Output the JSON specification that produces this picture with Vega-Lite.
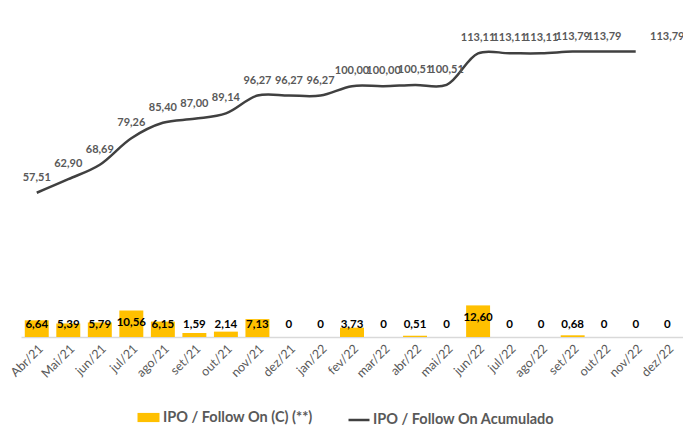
{
  "$schema": "https://vega.github.io/schema/vega-lite/v6.json",
  "width": 662,
  "height": 301,
  "autosize": "none",
  "padding": {"left": 21, "top": 36, "right": 0, "bottom": 91},
  "background": "white",
  "config": {"view": {"stroke": null}, "font": "Lato"},
  "data": {
    "values": [
      {"month": "Abr/21", "bar": 6.64, "acc": 57.51},
      {"month": "Mai/21", "bar": 5.39, "acc": 62.90},
      {"month": "jun/21", "bar": 5.79, "acc": 68.69},
      {"month": "jul/21", "bar": 10.56, "acc": 79.26},
      {"month": "ago/21", "bar": 6.15, "acc": 85.40},
      {"month": "set/21", "bar": 1.59, "acc": 87.00},
      {"month": "out/21", "bar": 2.14, "acc": 89.14},
      {"month": "nov/21", "bar": 7.13, "acc": 96.27},
      {"month": "dez/21", "bar": 0, "acc": 96.27},
      {"month": "jan/22", "bar": 0, "acc": 96.27},
      {"month": "fev/22", "bar": 3.73, "acc": 100.00},
      {"month": "mar/22", "bar": 0, "acc": 100.00},
      {"month": "abr/22", "bar": 0.51, "acc": 100.51},
      {"month": "mai/22", "bar": 0, "acc": 100.51},
      {"month": "jun/22", "bar": 12.60, "acc": 113.11},
      {"month": "jul/22", "bar": 0, "acc": 113.11},
      {"month": "ago/22", "bar": 0, "acc": 113.11},
      {"month": "set/22", "bar": 0.68, "acc": 113.79},
      {"month": "out/22", "bar": 0, "acc": 113.79},
      {"month": "nov/22", "bar": 0, "acc": 113.79},
      {"month": "dez/22", "bar": 0, "acc": 113.79}
    ]
  },
  "encoding": {
    "x": {
      "field": "month",
      "type": "nominal",
      "sort": null,
      "scale": {"paddingInner": 0.24, "paddingOuter": 0.12},
      "axis": {
        "title": null,
        "labelAngle": -45,
        "labelFontSize": 12.5,
        "labelColor": "#595959",
        "labelFont": "Lato",
        "ticks": false,
        "domainColor": "#D9D9D9",
        "domainWidth": 1.5,
        "labelPadding": 5
      }
    }
  },
  "layer": [
    {
      "mark": {"type": "bar"},
      "encoding": {
        "y": {"field": "bar", "type": "quantitative", "scale": {"domain": [0, 120], "nice": false}, "axis": null},
        "fill": {
          "datum": "IPO / Follow On (C) (**)",
          "scale": {"range": ["#FFC000"]},
          "legend": {
            "orient": "none",
            "legendX": 118,
            "legendY": 372,
            "title": null,
            "labelFontSize": 14.5,
            "labelFont": "Lato",
            "labelFontWeight": "bold",
            "labelColor": "#595959",
            "labelLimit": 400,
            "symbolType": "M-1.2,-0.5H1.2V0.5H-1.2Z",
            "symbolSize": 336,
            "symbolStrokeWidth": 0,
            "labelOffset": 5
          }
        }
      }
    },
    {
      "transform": [
        {"calculate": "datum.bar == 0 ? '0' : replace(format(datum.bar, '.2f'), '.', ',')", "as": "blabel"},
        {"calculate": "max(datum.bar - 5, 4.8)", "as": "bpos"}
      ],
      "mark": {"type": "text", "fontWeight": "bold", "fontSize": 11.5, "font": "Lato", "color": "#000000", "baseline": "middle"},
      "encoding": {
        "y": {"field": "bpos", "type": "quantitative"},
        "text": {"field": "blabel"}
      }
    },
    {
      "transform": [{"filter": "datum.month != 'dez/22'"}],
      "mark": {"type": "line", "interpolate": "catmull-rom", "strokeWidth": 2.5},
      "encoding": {
        "y": {"field": "acc", "type": "quantitative"},
        "stroke": {
          "datum": "IPO / Follow On Acumulado",
          "scale": {"range": ["#404040"]},
          "legend": {
            "orient": "none",
            "legendX": 326,
            "legendY": 372,
            "title": null,
            "labelFontSize": 14.5,
            "labelFont": "Lato",
            "labelFontWeight": "bold",
            "labelColor": "#595959",
            "labelLimit": 400,
            "symbolType": "stroke",
            "symbolSize": 441,
            "symbolStrokeWidth": 2.5,
            "labelOffset": 2
          }
        }
      }
    },
    {
      "transform": [
        {"filter": "datum.month != 'nov/22'"},
        {"calculate": "replace(format(datum.acc, '.2f'), '.', ',')", "as": "alabel"}
      ],
      "mark": {"type": "text", "fontWeight": "bold", "fontSize": 11, "font": "Lato", "color": "#595959", "baseline": "middle", "dy": -15},
      "encoding": {
        "y": {"field": "acc", "type": "quantitative"},
        "text": {"field": "alabel"}
      }
    }
  ]
}
